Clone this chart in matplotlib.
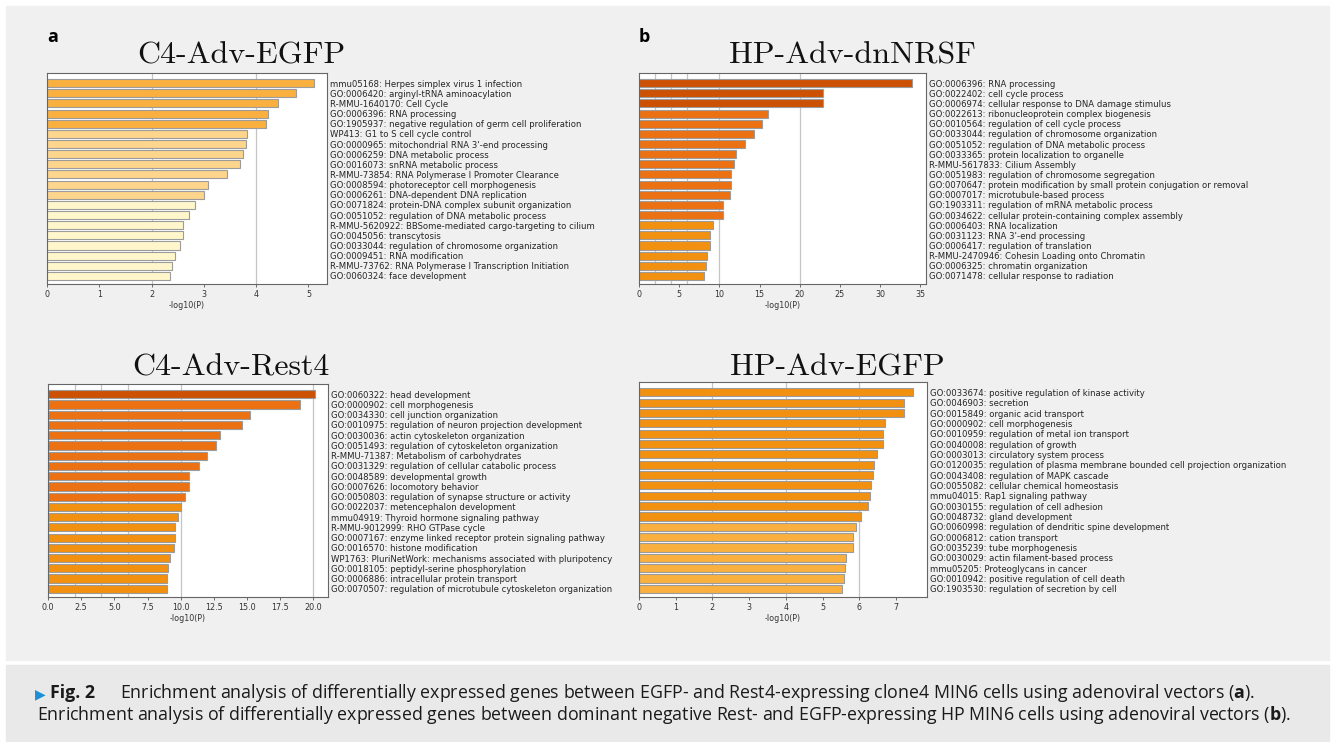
import numpy as np
import matplotlib
matplotlib.use("Agg")
import matplotlib.pyplot as plt
from matplotlib.patches import Rectangle
from matplotlib.ticker import MultipleLocator

plt.rcParams['mathtext.fontset'] = 'custom'
plt.rcParams['mathtext.rm'] = 'Open Sans'
plt.rcParams['mathtext.bf'] = 'Open Sans:bold'

# ---- data ----
egfp_c4_terms = [
    "mmu05168: Herpes simplex virus 1 infection",
    "GO:0006420: arginyl-tRNA aminoacylation",
    "R-MMU-1640170: Cell Cycle",
    "GO:0006396: RNA processing",
    "GO:1905937: negative regulation of germ cell proliferation",
    "WP413: G1 to S cell cycle control",
    "GO:0000965: mitochondrial RNA 3'-end processing",
    "GO:0006259: DNA metabolic process",
    "GO:0016073: snRNA metabolic process",
    "R-MMU-73854: RNA Polymerase I Promoter Clearance",
    "GO:0008594: photoreceptor cell morphogenesis",
    "GO:0006261: DNA-dependent DNA replication",
    "GO:0071824: protein-DNA complex subunit organization",
    "GO:0051052: regulation of DNA metabolic process",
    "R-MMU-5620922: BBSome-mediated cargo-targeting to cilium",
    "GO:0045056: transcytosis",
    "GO:0033044: regulation of chromosome organization",
    "GO:0009451: RNA modification",
    "R-MMU-73762: RNA Polymerase I Transcription Initiation",
    "GO:0060324: face development",
]
egfp_c4_logp = [5.10, 4.77, 4.42, 4.22, 4.18, 3.82, 3.80, 3.75, 3.70, 3.44,
                3.08, 3.00, 2.83, 2.72, 2.60, 2.60, 2.55, 2.44, 2.39, 2.35]
egfp_c4_shade = [2, 2, 2, 2, 2, 1, 1, 1, 1, 1, 1, 1, 0, 0, 0, 0, 0, 0, 0, 0]

dnnrsf_terms = [
    "GO:0006396: RNA processing",
    "GO:0022402: cell cycle process",
    "GO:0006974: cellular response to DNA damage stimulus",
    "GO:0022613: ribonucleoprotein complex biogenesis",
    "GO:0010564: regulation of cell cycle process",
    "GO:0033044: regulation of chromosome organization",
    "GO:0051052: regulation of DNA metabolic process",
    "GO:0033365: protein localization to organelle",
    "R-MMU-5617833: Cilium Assembly",
    "GO:0051983: regulation of chromosome segregation",
    "GO:0070647: protein modification by small protein conjugation or removal",
    "GO:0007017: microtubule-based process",
    "GO:1903311: regulation of mRNA metabolic process",
    "GO:0034622: cellular protein-containing complex assembly",
    "GO:0006403: RNA localization",
    "GO:0031123: RNA 3'-end processing",
    "GO:0006417: regulation of translation",
    "R-MMU-2470946: Cohesin Loading onto Chromatin",
    "GO:0006325: chromatin organization",
    "GO:0071478: cellular response to radiation",
]
dnnrsf_logp = [34.0, 22.9, 22.9, 16.1, 15.3, 14.3, 13.2, 12.1, 11.8, 11.5,
               11.4, 11.3, 10.4, 10.4, 9.2, 8.8, 8.8, 8.4, 8.3, 8.1]
dnnrsf_shade = [5, 5, 5, 4, 4, 4, 4, 4, 4, 4, 4, 4, 4, 4, 3, 3, 3, 3, 3, 3]

rest4_terms = [
    "GO:0060322: head development",
    "GO:0000902: cell morphogenesis",
    "GO:0034330: cell junction organization",
    "GO:0010975: regulation of neuron projection development",
    "GO:0030036: actin cytoskeleton organization",
    "GO:0051493: regulation of cytoskeleton organization",
    "R-MMU-71387: Metabolism of carbohydrates",
    "GO:0031329: regulation of cellular catabolic process",
    "GO:0048589: developmental growth",
    "GO:0007626: locomotory behavior",
    "GO:0050803: regulation of synapse structure or activity",
    "GO:0022037: metencephalon development",
    "mmu04919: Thyroid hormone signaling pathway",
    "R-MMU-9012999: RHO GTPase cycle",
    "GO:0007167: enzyme linked receptor protein signaling pathway",
    "GO:0016570: histone modification",
    "WP1763: PluriNetWork: mechanisms associated with pluripotency",
    "GO:0018105: peptidyl-serine phosphorylation",
    "GO:0006886: intracellular protein transport",
    "GO:0070507: regulation of microtubule cytoskeleton organization",
]
rest4_logp = [20.1, 19.0, 15.2, 14.6, 13.0, 12.7, 12.0, 11.4, 10.6, 10.6,
              10.35, 10.0, 9.77, 9.55, 9.55, 9.47, 9.19, 9.07, 9.0, 9.0]
rest4_shade = [5, 4, 4, 4, 4, 4, 4, 4, 4, 4, 4, 3, 3, 3, 3, 3, 3, 3, 3, 3]

egfp_hp_terms = [
    "GO:0033674: positive regulation of kinase activity",
    "GO:0046903: secretion",
    "GO:0015849: organic acid transport",
    "GO:0000902: cell morphogenesis",
    "GO:0010959: regulation of metal ion transport",
    "GO:0040008: regulation of growth",
    "GO:0003013: circulatory system process",
    "GO:0120035: regulation of plasma membrane bounded cell projection organization",
    "GO:0043408: regulation of MAPK cascade",
    "GO:0055082: cellular chemical homeostasis",
    "mmu04015: Rap1 signaling pathway",
    "GO:0030155: regulation of cell adhesion",
    "GO:0048732: gland development",
    "GO:0060998: regulation of dendritic spine development",
    "GO:0006812: cation transport",
    "GO:0035239: tube morphogenesis",
    "GO:0030029: actin filament-based process",
    "mmu05205: Proteoglycans in cancer",
    "GO:0010942: positive regulation of cell death",
    "GO:1903530: regulation of secretion by cell",
]
egfp_hp_logp = [7.47, 7.23, 7.21, 6.69, 6.65, 6.65, 6.49, 6.41, 6.36, 6.31,
                6.29, 6.25, 6.05, 5.91, 5.84, 5.84, 5.63, 5.62, 5.59, 5.53]
egfp_hp_shade = [3, 3, 3, 3, 3, 3, 3, 3, 3, 3, 3, 3, 3, 2, 2, 2, 2, 2, 2, 2]

palette = ['#FFF6CB', '#FDD58C', '#F9B03F', '#F29010', '#EB7112', '#CC5104']
grid_at = [2, 4, 6, 10, 20]

W, H = 1335, 742
fig = plt.figure(figsize=(W / 100, H / 100), dpi=100, facecolor='white')


def px(x0, y0, x1, y1):
    # pixel box (top-left origin) -> figure fraction rect
    return [x0 / W, 1 - y1 / H, (x1 - x0) / W, (y1 - y0) / H]


# background boxes (behind the axes)
fig.patches.append(Rectangle((6 / W, 1 - 660 / H), 1323 / W, 654 / H,
                             transform=fig.transFigure, color='#f0f0f0', zorder=-5))
fig.patches.append(Rectangle((6 / W, 0), 1323 / W, 77 / H,
                             transform=fig.transFigure, color='#e9e9e9', zorder=-5))


def panel(box, terms, logp, shade, step, title, tx, ty):
    ax = fig.add_axes(px(*box))
    ax.set_facecolor('white')
    y = np.arange(len(logp))
    ax.barh(y, logp, height=0.8, color=[palette[s] for s in shade],
            edgecolor='#9c9c9c', linewidth=0.8, zorder=2)
    xmax = max(logp) * 1.05
    ax.set_xlim(0, xmax)
    ax.set_ylim(19.8, -1.0)
    for g in grid_at:
        if g < xmax:
            ax.axvline(g, color='#c4c4c4', lw=0.9, zorder=1)
    ax.set_yticks(y)
    ax.set_yticklabels(terms, fontsize=6.1, color='#262626')
    ax.yaxis.tick_right()
    ax.tick_params(axis='y', length=0, pad=2.5)
    ax.xaxis.set_major_locator(MultipleLocator(step))
    ax.tick_params(axis='x', labelsize=5.8, length=2.5, width=0.6,
                   color='#555555', labelcolor='#333333', pad=2)
    ax.set_xlabel('-log10(P)', fontsize=5.8, color='#333333', labelpad=1)
    for sp in ax.spines.values():
        sp.set_color('#666666')
        sp.set_linewidth(0.8)
    fig.text(tx / W, 1 - ty / H, title, fontsize=23, family=['cmr10', 'DejaVu Serif'],
             ha='left', va='baseline', color='#111111')
    return ax


panel((47, 73, 327, 284), egfp_c4_terms, egfp_c4_logp, egfp_c4_shade, 1,
      'C4-Adv-EGFP', 137, 63)
panel((639, 73, 926, 284), dnnrsf_terms, dnnrsf_logp, dnnrsf_shade, 5,
      'HP-Adv-dnNRSF', 729, 63)
panel((48, 384, 328, 597), rest4_terms, rest4_logp, rest4_shade, 2.5,
      'C4-Adv-Rest4', 132, 376)
panel((639, 382, 927, 597), egfp_hp_terms, egfp_hp_logp, egfp_hp_shade, 1,
      'HP-Adv-EGFP', 730, 375)

fig.text(47 / W, 1 - 42 / H, 'a', fontsize=13, fontweight='bold',
         family='Open Sans', va='baseline')
fig.text(639 / W, 1 - 42 / H, 'b', fontsize=13, fontweight='bold',
         family='Open Sans', va='baseline')

# caption
cap = dict(fontsize=12.8, family='Open Sans', color='#1a1a1a', va='baseline')
fig.text(35 / W, 1 - 698 / H, '\u25B6', fontsize=10, family='DejaVu Sans',
         color='#1e8fd5', va='baseline')
fig.text(50 / W, 1 - 698 / H, 'Fig. 2', fontweight='bold', **cap)
fig.text(120 / W, 1 - 698 / H,
         'Enrichment analysis of differentially expressed genes between EGFP- and '
         'Rest4-expressing clone4 MIN6 cells using adenoviral vectors ($\\mathbf{a}$).',
         **cap)
fig.text(37 / W, 1 - 720 / H,
         'Enrichment analysis of differentially expressed genes between dominant negative '
         'Rest- and EGFP-expressing HP MIN6 cells using adenoviral vectors ($\\mathbf{b}$).',
         **cap)

fig.savefig('out.png', dpi=100, facecolor=fig.get_facecolor())
